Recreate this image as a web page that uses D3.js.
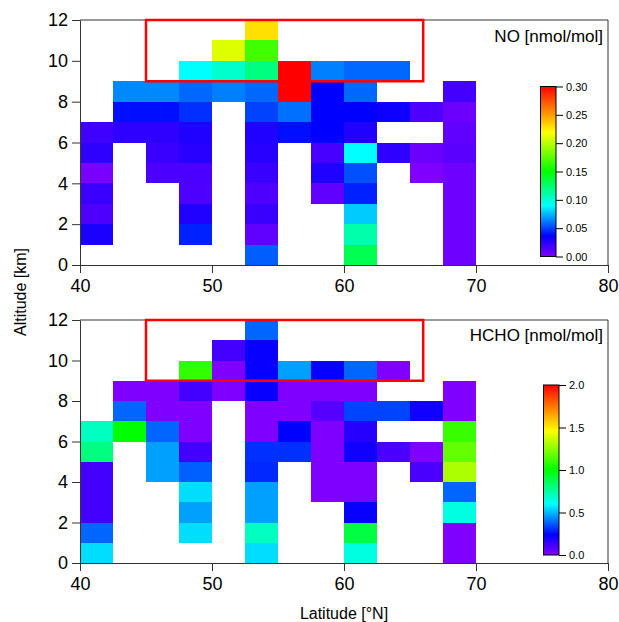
<!DOCTYPE html>
<html>
<head>
<meta charset="utf-8">
<script src="https://cdn.jsdelivr.net/npm/d3@7/dist/d3.min.js"></script>
<style>
  html, body { margin: 0; padding: 0; background: #fff; }
  svg { display: block; font-family: "Liberation Sans", Arial, Helvetica, sans-serif; }
</style>
</head>
<body>
<svg id="chart" width="619" height="622"></svg>
<script>
const n = null;
// latitude bin starts (°N), 2.5° wide
const latitudes = [40, 42.5, 45, 47.5, 50, 52.5, 55, 57.5, 60, 62.5, 65, 67.5];
// altitude bin starts (km), 1 km thick
const altitudes = [0, 1, 2, 3, 4, 5, 6, 7, 8, 9, 10, 11];
const xTicks = [40, 50, 60, 70, 80];
const yTicks = [0, 2, 4, 6, 8, 10, 12];

// NO [nmol/mol], rows = altitude bins (0..11 km), cols = latitude bins
const noValues = [
  [n, n, n, n, n, 0.056, n, n, 0.131, n, n, 0.005],
  [0.029, n, n, 0.043, n, 0.009, n, n, 0.110, n, n, 0.005],
  [0.014, n, n, 0.027, n, 0.020, n, n, 0.079, n, n, 0.005],
  [0.020, n, n, 0.014, n, 0.014, n, 0.009, 0.043, n, n, 0.005],
  [0.002, n, 0.015, 0.015, n, 0.020, n, 0.027, 0.053, n, 0.000, 0.005],
  [0.023, n, 0.020, 0.025, n, 0.025, n, 0.016, 0.090, 0.023, 0.006, 0.011],
  [0.018, 0.023, 0.023, 0.027, n, 0.027, 0.039, 0.036, 0.027, n, n, 0.009],
  [n, 0.039, 0.039, 0.046, n, 0.050, 0.060, 0.036, 0.036, 0.032, 0.014, 0.006],
  [n, 0.065, 0.065, 0.058, 0.063, 0.058, 0.300, 0.036, 0.058, n, n, 0.017],
  [n, n, n, 0.090, 0.102, 0.120, 0.300, 0.063, 0.058, 0.058, n, n],
  [n, n, n, n, 0.210, 0.167, n, n, n, n, n, n],
  [n, n, n, n, n, 0.229, n, n, n, n, n, n]
];

// HCHO [nmol/mol]
const hchoValues = [
  [0.552, n, n, n, n, 0.552, n, n, 0.648, n, n, 0.0],
  [0.384, n, n, 0.552, n, 0.698, n, n, 0.90, n, n, 0.0],
  [0.112, n, n, 0.466, n, 0.466, n, n, 0.225, n, n, 0.648],
  [0.112, n, n, 0.552, n, 0.466, n, 0.0, 0.0, n, n, 0.384],
  [0.112, n, 0.466, 0.376, n, 0.296, n, 0.0, 0.0, n, 0.101, 1.31],
  [0.80, n, 0.466, 0.112, n, 0.308, 0.308, 0.0, 0.21, 0.101, 0.0, 1.18],
  [0.698, 1.0, 0.384, 0.0, n, 0.0, 0.24, 0.0, 0.17, n, n, 1.10],
  [n, 0.384, 0.0, 0.0, n, 0.0, 0.0, 0.081, 0.336, 0.336, 0.21, 0.0],
  [n, 0.0, 0.0, 0.112, 0.0, 0.225, 0.0, 0.0, 0.0, n, n, 0.0],
  [n, n, n, 1.09, 0.0, 0.225, 0.466, 0.225, 0.384, 0.0, n, n],
  [n, n, n, n, 0.112, 0.225, n, n, n, n, n, n],
  [n, n, n, n, n, 0.384, n, n, n, n, n, n]
];

const noTicks = [0.00, 0.05, 0.10, 0.15, 0.20, 0.25, 0.30];
const hchoTicks = [0.0, 0.5, 1.0, 1.5, 2.0];
const boxLat = [45, 66];
const boxAlt = [9, 12];

const latStep = 2.5, altStep = 1;
const rainbowStops = [0, 0.12, 0.3, 0.5, 0.73, 1];
const rainbowColors = ["#8000ff", "#0000ff", "#00ffff", "#00ff00", "#ffff00", "#ff0000"];

const svg = d3.select("#chart");
const defs = svg.append("defs");
const axisColor = "#333";

const panels = [
  { title: "NO [nmol/mol]", values: noValues, max: 0.30, ticks: noTicks, fmt: d3.format(".2f"),
    top: 20, bottom: 265, cb: { x: 540.5, w: 15.5, top: 86.5, bottom: 256.5 }, titleY: 42 },
  { title: "HCHO [nmol/mol]", values: hchoValues, max: 2.0, ticks: hchoTicks, fmt: d3.format(".1f"),
    top: 320, bottom: 563, cb: { x: 543.5, w: 15.5, top: 385, bottom: 555 }, titleY: 341 }
];

const x = d3.scaleLinear().domain([40, 80]).range([80, 608]);

panels.forEach((p, pi) => {
  const y = d3.scaleLinear().domain([0, 12]).range([p.bottom, p.top]);
  const color = d3.scaleLinear()
    .domain(rainbowStops.map(t => t * p.max))
    .range(rainbowColors)
    .interpolate(d3.interpolateRgb)
    .clamp(true);

  const g = svg.append("g");

  const cells = [];
  p.values.forEach((row, ai) => row.forEach((v, li) => {
    if (v !== null) cells.push({ lat: latitudes[li], alt: altitudes[ai], v });
  }));

  g.append("g").selectAll("rect").data(cells).join("rect")
    .attr("x", d => x(d.lat))
    .attr("y", d => y(d.alt + altStep))
    .attr("width", d => x(d.lat + latStep) - x(d.lat))
    .attr("height", d => y(d.alt) - y(d.alt + altStep))
    .attr("fill", d => color(d.v))
    .attr("shape-rendering", "crispEdges");

  // frame top & right
  g.append("line").attr("x1", x(40)).attr("x2", x(80)).attr("y1", y(12)).attr("y2", y(12))
    .attr("stroke", axisColor).attr("stroke-width", 1);
  g.append("line").attr("x1", x(80)).attr("x2", x(80)).attr("y1", y(0)).attr("y2", y(12))
    .attr("stroke", axisColor).attr("stroke-width", 1);

  const xAxis = g.append("g").attr("transform", `translate(0,${p.bottom})`)
    .call(d3.axisBottom(x).tickValues(xTicks).tickSize(8).tickSizeOuter(0).tickPadding(6));
  const yAxis = g.append("g").attr("transform", `translate(80,0)`)
    .call(d3.axisLeft(y).tickValues(yTicks).tickSize(8).tickSizeOuter(0).tickPadding(4));
  [xAxis, yAxis].forEach(a => {
    a.select(".domain").attr("stroke", axisColor);
    a.selectAll(".tick line").attr("stroke", axisColor);
    a.selectAll("text").attr("fill", "#000").style("font-size", "18px")
      .style("font-family", '"Liberation Sans", Arial, sans-serif');
  });

  // red box
  g.append("rect")
    .attr("x", x(boxLat[0])).attr("y", y(boxAlt[1]))
    .attr("width", x(boxLat[1]) - x(boxLat[0]))
    .attr("height", y(boxAlt[0]) - y(boxAlt[1]))
    .attr("fill", "none").attr("stroke", "#ff0000").attr("stroke-width", 2.5);

  // title
  g.append("text").attr("x", 603).attr("y", p.titleY).attr("text-anchor", "end")
    .style("font-size", "17px").text(p.title);

  // colorbar
  const gid = "grad" + pi;
  const grad = defs.append("linearGradient").attr("id", gid)
    .attr("x1", 0).attr("y1", 1).attr("x2", 0).attr("y2", 0);
  rainbowStops.forEach((t, i) => grad.append("stop")
    .attr("offset", t).attr("stop-color", rainbowColors[i]));
  const cbScale = d3.scaleLinear().domain([0, p.max]).range([p.cb.bottom, p.cb.top]);
  g.append("rect").attr("x", p.cb.x).attr("y", p.cb.top)
    .attr("width", p.cb.w).attr("height", p.cb.bottom - p.cb.top)
    .attr("fill", `url(#${gid})`).attr("stroke", "#000").attr("stroke-width", 1);
  const cbAxis = g.append("g").attr("transform", `translate(${p.cb.x + p.cb.w},0)`)
    .call(d3.axisRight(cbScale).tickValues(p.ticks).tickFormat(p.fmt).tickSize(7).tickSizeOuter(0).tickPadding(3));
  cbAxis.select(".domain").remove();
  cbAxis.selectAll(".tick line").attr("stroke", "#000");
  cbAxis.selectAll("text").attr("fill", "#000").style("font-size", "11px")
    .style("font-family", '"Liberation Sans", Arial, sans-serif');
});

svg.append("text")
  .attr("transform", "translate(26,292) rotate(-90)")
  .attr("text-anchor", "middle")
  .style("font-size", "16px")
  .text("Altitude [km]");

svg.append("text")
  .attr("x", 344).attr("y", 619)
  .attr("text-anchor", "middle")
  .style("font-size", "16px")
  .text("Latitude [°N]");
</script>
</body>
</html>
